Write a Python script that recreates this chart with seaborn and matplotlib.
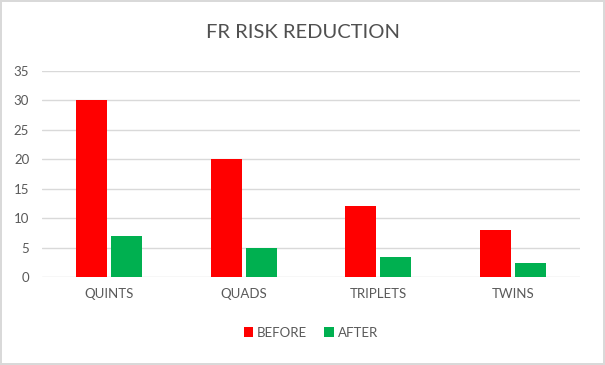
import seaborn as sns
import pandas as pd
import matplotlib.pyplot as plt

## Donnees
categories = ["QUINTS", "QUADS", "TRIPLETS", "TWINS"]
before = [30, 20, 12, 8]
after = [7, 5, 3.4, 2.4]

df = pd.DataFrame({
    "cat": categories * 2,
    "val": before + after,
    "serie": ["BEFORE"] * 4 + ["AFTER"] * 4,
})

sns.set_style("white")
plt.rcParams["font.family"] = ["Lato", "DejaVu Sans"]
grey = "#595959"

fig = plt.figure(figsize=(6.05, 3.65), dpi=100, edgecolor="#d9d9d9", linewidth=1.5)
ax = fig.add_axes([0.069, 0.241, 0.89, 0.565])

sns.barplot(data=df, x="cat", y="val", hue="serie", palette=["#ff0000", "#00b050"],
            width=0.52, gap=0.12, saturation=1, linewidth=0, ax=ax)

ax.set_ylim(0, 35)
ax.set_yticks(range(0, 36, 5))
ax.yaxis.grid(True, color="#d9d9d9", linewidth=1)
ax.set_axisbelow(True)
for s in ax.spines.values():
    s.set_visible(False)
ax.set_xlabel("")
ax.set_ylabel("")
ax.tick_params(axis="both", length=0, labelsize=9.5, colors=grey, pad=8)
ax.tick_params(axis="y", pad=9)

fig.suptitle("FR RISK REDUCTION", y=0.935, fontsize=14.5, color="#505050")

ax.legend(loc="center", bbox_to_anchor=(0.5, -0.27), ncol=2, frameon=False,
          fontsize=9.5, labelcolor=grey, handlelength=0.7, handleheight=0.7,
          handletextpad=0.3, columnspacing=1.3)

plt.savefig("out.png", dpi=100)
